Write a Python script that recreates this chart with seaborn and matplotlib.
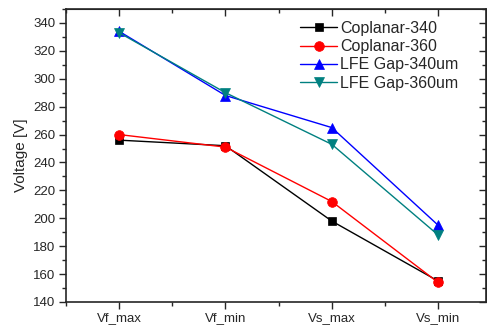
import matplotlib
matplotlib.use("Agg")
import matplotlib.pyplot as plt
import seaborn as sns
import pandas as pd
from matplotlib.ticker import MultipleLocator

categories = ["Vf_max", "Vf_min", "Vs_max", "Vs_min"]
coplanar_340 = [256, 252, 198, 155]
coplanar_360 = [260, 251, 212, 154]
lfe_340 = [334, 288, 265, 195]
lfe_360 = [333, 290, 253, 188]
series_names = ["Coplanar-340", "Coplanar-360", "LFE Gap-340um", "LFE Gap-360um"]
series_values = [coplanar_340, coplanar_360, lfe_340, lfe_360]

rows = []
for name, vals in zip(series_names, series_values):
    for i, (c, v) in enumerate(zip(categories, vals)):
        rows.append({"pos": i, "cat": c, "Voltage": v, "series": name})
df = pd.DataFrame(rows)

sns.set_style("ticks")
plt.rcParams["font.family"] = ["Liberation Sans", "DejaVu Sans"]

fig = plt.figure(figsize=(4.87, 3.25), dpi=100)
ax = fig.add_axes([66/487, 1-302/325, (486-66)/487, (302-9)/325])

palette = {"Coplanar-340": "black", "Coplanar-360": "red",
           "LFE Gap-340um": "blue", "LFE Gap-360um": "#008080"}
markers = {"Coplanar-340": "s", "Coplanar-360": "o",
           "LFE Gap-340um": "^", "LFE Gap-360um": "v"}
sizes = {"Coplanar-340": 6, "Coplanar-360": 7,
         "LFE Gap-340um": 7.5, "LFE Gap-360um": 7.5}
for name in series_names:
    sub = df[df.series == name]
    sns.lineplot(data=sub, x="pos", y="Voltage", ax=ax, color=palette[name],
                 marker=markers[name], markersize=sizes[name], linewidth=1,
                 markeredgewidth=0.5, markeredgecolor=palette[name], label=name, sort=False)

ax.set_xlim(-0.5, 3.45)
ax.set_ylim(140, 350)
ax.set_xticks(range(len(categories)))
ax.set_xticklabels(categories)
ax.xaxis.set_minor_locator(MultipleLocator(0.5))
ax.set_yticks(range(140, 341, 20))
ax.yaxis.set_minor_locator(MultipleLocator(10))
ax.set_xlabel("")
ax.set_ylabel("Voltage [V]", fontsize=11)
ax.tick_params(axis="both", which="major", labelsize=9.5, length=5, width=1,
               direction="out", pad=2.5)
ax.tick_params(axis="both", which="minor", length=3, width=1, direction="out")
for s in ax.spines.values():
    s.set_linewidth(1.2)

# mirrored ticks pointing inward on top and right
top = ax.secondary_xaxis("top")
top.set_xticks(range(len(categories)))
top.xaxis.set_minor_locator(MultipleLocator(0.5))
top.tick_params(which="major", direction="in", length=5, width=1, labeltop=False)
top.tick_params(which="minor", direction="in", length=3, width=1)
top.set_xticklabels([])
right = ax.secondary_yaxis("right")
right.set_yticks(range(140, 341, 20))
right.yaxis.set_minor_locator(MultipleLocator(10))
right.tick_params(which="major", direction="in", length=5, width=1, labelright=False)
right.tick_params(which="minor", direction="in", length=3, width=1)
right.set_yticklabels([])

ax.legend(loc="upper right", frameon=False, fontsize=11.5, handlelength=2.3,
          handletextpad=0.2, labelspacing=0.2, borderaxespad=0.35,
          bbox_to_anchor=(0.963, 1.0))

fig.savefig("out.png", dpi=100)
